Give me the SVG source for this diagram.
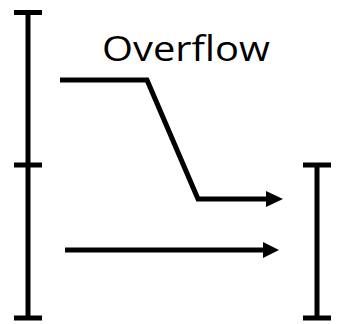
<svg xmlns="http://www.w3.org/2000/svg" width="347" height="324" viewBox="0 0 347 324">
<style>
.ln{stroke:#000;stroke-width:5;fill:none}
.ah{fill:#000;stroke:none}
.lbl{font-family:"Open Sans","Liberation Sans",sans-serif;font-size:34px;fill:#000}
</style>
<rect width="347" height="324" fill="#fff"/>
<g id="left-bar">
<line class="ln" x1="28" y1="12.5" x2="28" y2="318"/>
<line class="ln" x1="14" y1="12.5" x2="42" y2="12.5"/>
<line class="ln" x1="14" y1="165" x2="42" y2="165"/>
<line class="ln" x1="14" y1="318" x2="42" y2="318"/>
</g>
<g id="right-bar">
<line class="ln" x1="317" y1="165" x2="317" y2="318"/>
<line class="ln" x1="303" y1="165" x2="331" y2="165"/>
<line class="ln" x1="303" y1="318" x2="331" y2="318"/>
</g>
<g id="label">
<text class="lbl" x="102" y="60.5" textLength="168" lengthAdjust="spacingAndGlyphs">Overflow</text>
</g>
<g id="connectors">
<polyline class="ln" points="60,80 147,80 198,199 268,199" stroke-linejoin="miter"/>
<polygon class="ah" points="266,191 283,199 266,207"/>
<line class="ln" x1="65" y1="250" x2="265" y2="250"/>
<polygon class="ah" points="263,242 279,250 263,258"/>
</g>
</svg>
